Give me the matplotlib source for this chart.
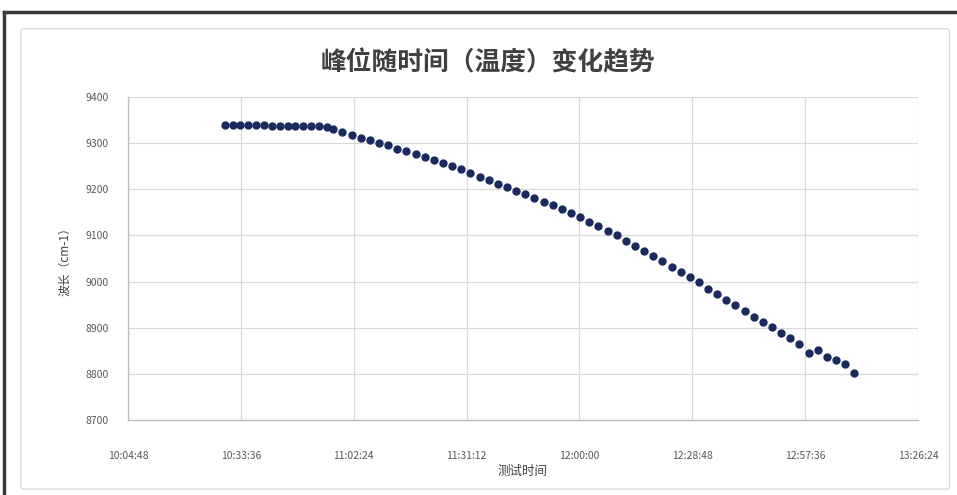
import matplotlib
matplotlib.use("Agg")
import matplotlib.pyplot as plt
from matplotlib.patches import FancyBboxPatch
from matplotlib.lines import Line2D
from matplotlib.ticker import FuncFormatter, MultipleLocator

plt.rcParams['font.family'] = ['Noto Sans CJK SC', 'DejaVu Sans']

# measurement times (hh:mm:ss) and peak position in cm-1
times = [
    "10:29:30", "10:31:30", "10:33:30", "10:35:30", "10:37:30", "10:39:30", "10:41:30",
    "10:43:30", "10:45:30", "10:47:30", "10:49:30", "10:51:30", "10:53:30", "10:55:30",
    "10:57:10", "10:59:30", "11:01:50", "11:04:10", "11:06:30", "11:08:50", "11:11:10",
    "11:13:30", "11:15:50", "11:18:10", "11:20:30", "11:22:50", "11:25:10", "11:27:30",
    "11:29:50", "11:32:10", "11:34:30", "11:36:50", "11:39:10", "11:41:30", "11:43:50",
    "11:46:10", "11:48:30", "11:50:50", "11:53:10", "11:55:30", "11:57:50", "12:00:10",
    "12:02:30", "12:04:50", "12:07:10", "12:09:30", "12:11:50", "12:14:10", "12:16:30",
    "12:18:50", "12:21:10", "12:23:30", "12:25:50", "12:28:10", "12:30:30", "12:32:50",
    "12:35:10", "12:37:30", "12:39:50", "12:42:10", "12:44:30", "12:46:50", "12:49:10",
    "12:51:30", "12:53:50", "12:56:10", "12:58:30", "13:00:50", "13:03:10", "13:05:30",
    "13:07:50", "13:10:10",
]
peak = [
    9340, 9340, 9339, 9339, 9339, 9339, 9338, 9338, 9338, 9338, 9338, 9337, 9337, 9336,
    9330, 9324, 9318, 9312, 9307, 9301, 9295, 9288, 9282, 9276, 9269, 9263, 9257,
    9250, 9243, 9235, 9227, 9220, 9212, 9204,
    9197, 9189, 9181, 9173, 9165, 9157, 9148, 9139, 9130, 9120, 9110, 9100,
    9089, 9078, 9066, 9055, 9044, 9032, 9021, 9010, 8999,
    8984, 8973, 8960, 8949, 8936, 8923, 8912, 8902, 8889, 8878, 8865,
    8845, 8852, 8836, 8830, 8821, 8802,
]

xticks_min, xticks_max, xstep = 0.42, 0.56, 0.02   # fraction of a day
y_min, y_max, y_step = 8700, 9400, 100


def day_fraction(s):
    h, m, sec = (int(v) for v in s.split(":"))
    return (h * 3600 + m * 60 + sec) / 86400.0


def fmt_time(v, pos):
    total = int(round(v * 86400))
    h, rem = divmod(total, 3600)
    m, s = divmod(rem, 60)
    return f"{h}:{m:02d}:{s:02d}"


x = [day_fraction(t) for t in times]

fig = plt.figure(figsize=(9.57, 4.95), dpi=100)
fig.patch.set_facecolor("white")

# outer frame: dark top and left edge, light chart border inside
fig.add_artist(Line2D([0.004, 1.0], [0.976, 0.976], transform=fig.transFigure,
                      color="#3a3a3a", linewidth=2.5, zorder=-2))
fig.add_artist(Line2D([0.004, 0.004], [0.0, 0.976], transform=fig.transFigure,
                      color="#3a3a3a", linewidth=2.5, zorder=-2))
fig.add_artist(FancyBboxPatch((0.022, 0.012), 0.97, 0.93,
                              boxstyle="round,pad=0,rounding_size=0.004",
                              transform=fig.transFigure, facecolor="white",
                              edgecolor="#dcdcdc", linewidth=1.0, zorder=-1))

ax = fig.add_axes([0.1338, 0.1515, 0.8254, 0.6525])
ax.set_facecolor("white")

ax.plot(x, peak, linestyle="none", marker="o", markersize=5.0,
        color="#1b2a5e", markeredgecolor="#1b2a5e")

ax.set_xlim(xticks_min, xticks_max)
ax.set_ylim(y_min, y_max)
ax.xaxis.set_major_locator(MultipleLocator(xstep))
ax.yaxis.set_major_locator(MultipleLocator(y_step))
ax.xaxis.set_major_formatter(FuncFormatter(fmt_time))

ax.grid(True, color="#d9d9d9", linewidth=0.9)
ax.set_axisbelow(True)
for side in ["top", "right"]:
    ax.spines[side].set_visible(False)
for side in ["left", "bottom"]:
    ax.spines[side].set_color("#bfbfbf")
    ax.spines[side].set_linewidth(1.0)
ax.tick_params(axis="x", length=0, labelsize=7.5, labelcolor="#595959", pad=22)
ax.tick_params(axis="y", length=0, labelsize=7.5, labelcolor="#595959", pad=14)

ax.set_xlabel("测试时间", fontsize=9, color="#404040", labelpad=3)
ax.set_ylabel("波长（cm-1）", fontsize=8.5, color="#404040", labelpad=10)

fig.text(0.510, 0.874, "峰位随时间（温度）变化趋势", ha="center", va="center",
         fontsize=18.5, fontweight="bold", color="#404040")

fig.savefig("out.png", dpi=100)
